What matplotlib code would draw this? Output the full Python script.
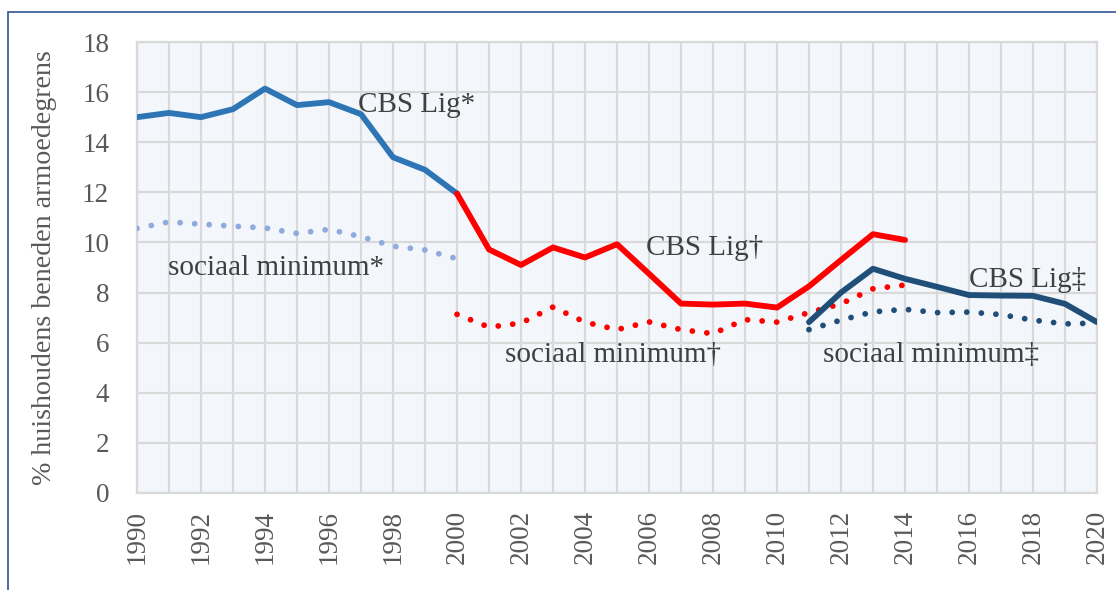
import numpy as np
import matplotlib
matplotlib.use("Agg")
import matplotlib.pyplot as plt
from matplotlib.patches import Rectangle

plt.rcParams['font.family'] = ['Liberation Serif', 'DejaVu Serif']

# CBS Lig* en sociaal minimum* (1990-2000)
years_a = list(range(1990, 2001))
cbs_a = [15.0, 15.17, 15.0, 15.32, 16.14, 15.48, 15.6, 15.12, 13.4, 12.9, 11.95]
soc_a = [10.56, 10.82, 10.73, 10.65, 10.58, 10.36, 10.52, 10.23, 9.85, 9.7, 9.35]

# CBS Lig† en sociaal minimum† (2000-2014)
years_b = list(range(2000, 2015))
cbs_b = [11.95, 9.72, 9.1, 9.8, 9.4, 9.93, 8.75, 7.56, 7.52, 7.56, 7.4, 8.25, 9.3, 10.33, 10.1]
soc_b = [7.13, 6.62, 6.78, 7.42, 6.82, 6.52, 6.83, 6.52, 6.36, 6.92, 6.82, 7.2, 7.55, 8.15, 8.3]

# CBS Lig‡ en sociaal minimum‡ (2011-2020)
years_c = list(range(2011, 2021))
cbs_c = [6.82, 8.0, 8.95, 8.55, 8.23, 7.9, 7.88, 7.87, 7.55, 6.82]
soc_c = [6.52, 6.9, 7.23, 7.33, 7.2, 7.22, 7.12, 6.9, 6.75, 6.78]

x_ticks = list(range(1990, 2021, 2))
y_ticks = list(range(0, 19, 2))

text_col = "#595959"
grid_col = "#D9D9D9"
lw = 4.2
dots = (0, (0.001, 2.5))

fig = plt.figure(figsize=(11.16, 5.9), dpi=100)
ax = fig.add_axes([137/1116, 97/590, 960/1116, 451/590])
ax.set_facecolor("#F3F7FC")

ax.plot(years_a, cbs_a, color="#2E75B6", lw=lw, solid_capstyle="round", zorder=3)
ax.plot(years_a, soc_a, color="#8FAADC", lw=lw, linestyle=dots, dash_capstyle="round", zorder=3)
ax.plot(years_b, cbs_b, color="#FF0000", lw=lw, solid_capstyle="round", zorder=3)
ax.plot(years_b, soc_b, color="#FF0000", lw=lw, linestyle=dots, dash_capstyle="round", zorder=3)
ax.plot(years_c, cbs_c, color="#1F4E79", lw=lw, solid_capstyle="round", zorder=4)
ax.plot(years_c, soc_c, color="#1F4E79", lw=lw, linestyle=dots, dash_capstyle="round", zorder=4)

lab_kw = dict(fontsize=21, color="#404040", ha="left", va="baseline", zorder=5)
ax.text(1996.9, 15.2, "CBS Lig*", **lab_kw)
ax.text(1990.97, 8.7, "sociaal minimum*", **lab_kw)
ax.text(2005.9, 9.5, "CBS Lig†", **lab_kw)
ax.text(2001.5, 5.24, "sociaal minimum†", **lab_kw)
ax.text(2016.0, 8.23, "CBS Lig‡", **lab_kw)
ax.text(2011.44, 5.24, "sociaal minimum‡", **lab_kw)

ax.set_xlim(1990, 2020)
ax.set_ylim(0, 18)
ax.set_xticks(x_ticks)
ax.set_xticklabels([str(t) for t in x_ticks], rotation=90)
ax.set_xticks(range(1990, 2021), minor=True)
ax.set_yticks(y_ticks)
ax.tick_params(axis="both", which="both", length=0, labelsize=19.5, colors=text_col)
ax.tick_params(axis="x", pad=12)
ax.tick_params(axis="y", pad=20)
ax.grid(True, which="both", color=grid_col, lw=1.6, zorder=1)
ax.set_axisbelow(True)
for s in ax.spines.values():
    s.set_color(grid_col)
    s.set_linewidth(1.6)

ax.set_ylabel("% huishoudens beneden armoedegrens", fontsize=20.2, color=text_col)
ax.yaxis.set_label_coords(-0.083, 0.5)

# outer frame
fig.patches.append(Rectangle((8/1116, -0.1), 1.2, 1 - 12/590 + 0.1,
                             transform=fig.transFigure, fill=False,
                             edgecolor="#2F5597", lw=1.2))

fig.savefig("out.png", dpi=100)
